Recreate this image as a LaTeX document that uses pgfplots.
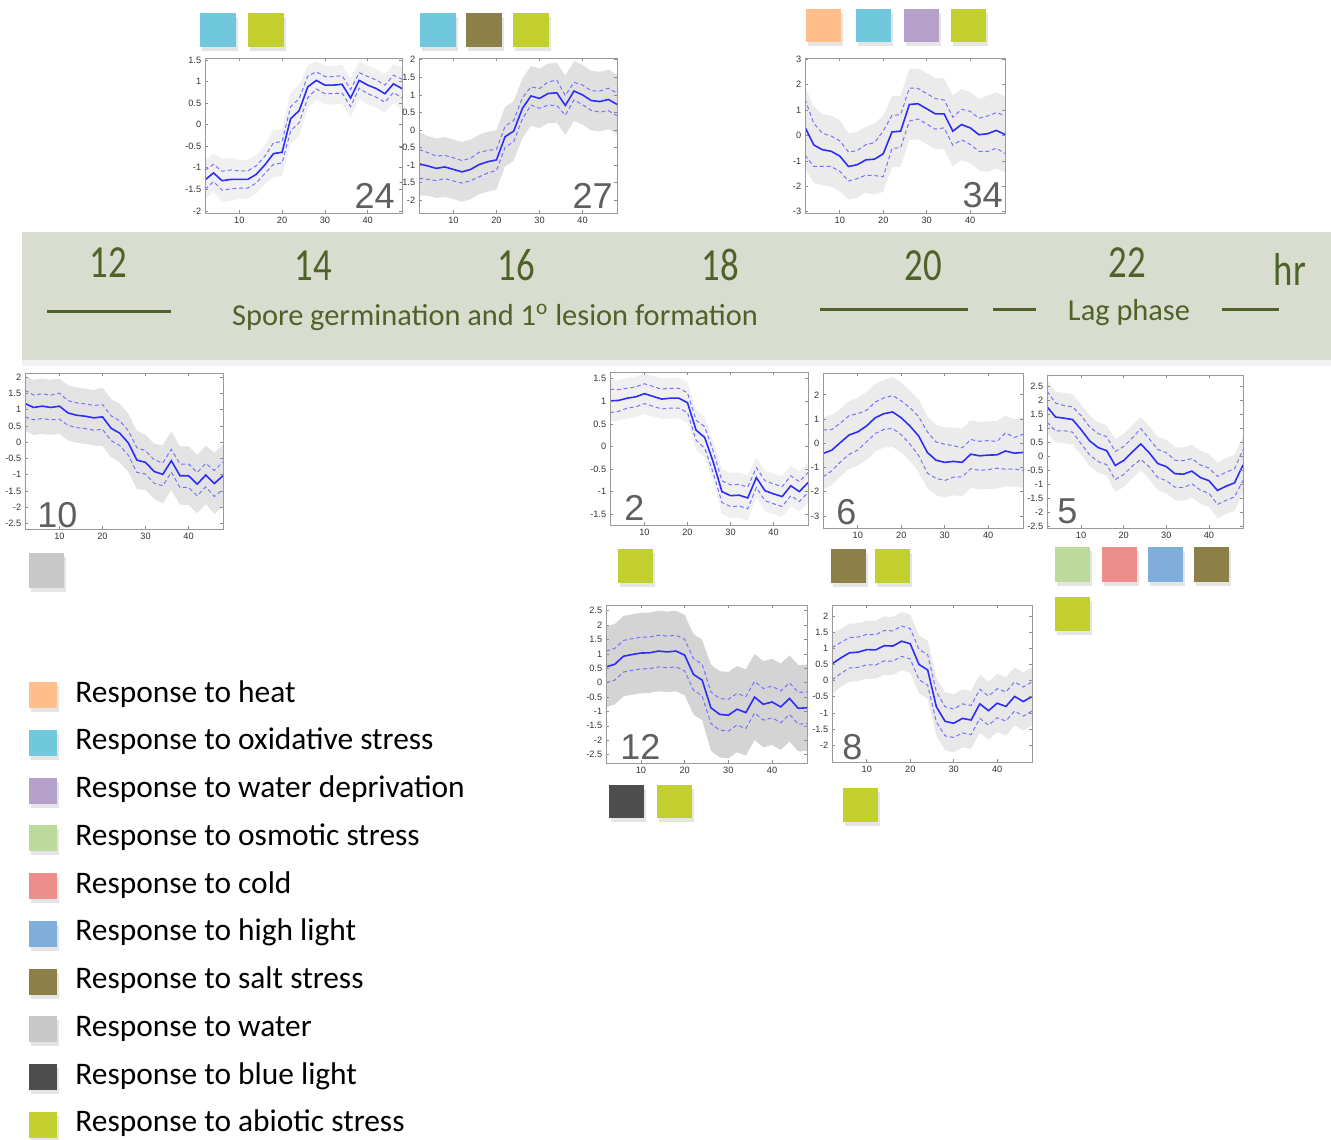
\documentclass[border=0pt]{standalone}
\usepackage{fontspec}
\setmainfont{Carlito}
\newfontfamily\helv{Liberation Sans}
\usepackage{graphicx}
\usepackage{pgfplots}
\pgfplotsset{compat=1.18}
\usepackage{pgfplotstable}

\definecolor{heat}{RGB}{255,190,140}
\definecolor{oxid}{RGB}{112,200,220}
\definecolor{wdep}{RGB}{180,160,200}
\definecolor{osmo}{RGB}{187,218,155}
\definecolor{cold}{RGB}{236,142,139}
\definecolor{hlight}{RGB}{127,174,219}
\definecolor{salt}{RGB}{140,127,71}
\definecolor{water}{RGB}{200,200,200}
\definecolor{blight}{RGB}{77,77,77}
\definecolor{abio}{RGB}{194,207,47}
\definecolor{banner}{RGB}{216,221,208}
\definecolor{olivetxt}{RGB}{79,98,40}
\definecolor{meanblue}{RGB}{45,45,250}
\definecolor{dashblue}{RGB}{115,115,255}
\definecolor{numgray}{RGB}{95,95,95}

\pgfplotstableread{
x m s e
2 -1.28 0.22 0.45
4 -1.12 0.20 0.45
6 -1.30 0.22 0.50
8 -1.27 0.22 0.50
10 -1.27 0.20 0.45
12 -1.27 0.20 0.45
14 -1.15 0.20 0.45
16 -0.93 0.20 0.45
18 -0.67 0.25 0.55
20 -0.64 0.25 0.55
22 0.14 0.28 0.60
24 0.33 0.28 0.60
26 0.88 0.25 0.50
28 1.03 0.20 0.45
30 0.92 0.20 0.45
32 0.92 0.20 0.45
34 0.94 0.20 0.45
36 0.62 0.20 0.45
38 1.03 0.18 0.45
40 0.92 0.20 0.45
42 0.84 0.20 0.45
44 0.72 0.20 0.45
46 0.95 0.20 0.45
48 0.84 0.22 0.50
}\tA
\pgfplotstableread{
x m s e
2 -0.96 0.41 0.90
4 -1.02 0.38 0.85
6 -1.09 0.35 0.85
8 -1.05 0.33 0.85
10 -1.12 0.33 0.85
12 -1.19 0.32 0.85
14 -1.12 0.32 0.85
16 -0.98 0.35 0.85
18 -0.90 0.32 0.85
20 -0.85 0.30 0.85
22 -0.19 0.30 0.85
24 -0.03 0.30 0.85
26 0.61 0.30 0.85
28 0.97 0.26 0.85
30 0.90 0.28 0.85
32 1.04 0.33 0.85
34 1.06 0.36 0.85
36 0.70 0.28 0.85
38 1.11 0.25 0.85
40 1.00 0.28 0.85
42 0.84 0.28 0.85
44 0.81 0.30 0.85
46 0.87 0.32 0.85
48 0.73 0.32 0.85
}\tB
\pgfplotstableread{
x m s e
2 0.33 1.10 1.60
4 -0.37 0.85 1.50
6 -0.56 0.65 1.40
8 -0.62 0.60 1.40
10 -0.81 0.60 1.40
12 -1.22 0.57 1.30
14 -1.15 0.55 1.30
16 -0.96 0.60 1.30
18 -0.93 0.65 1.40
20 -0.72 0.90 1.50
22 0.14 0.65 1.40
24 0.17 0.65 1.40
26 1.22 0.65 1.40
28 1.25 0.60 1.40
30 1.05 0.60 1.40
32 0.85 0.60 1.40
34 0.85 0.55 1.40
36 0.17 0.55 1.40
38 0.43 0.60 1.40
40 0.30 0.65 1.40
42 0.03 0.65 1.40
44 0.07 0.70 1.50
46 0.20 0.70 1.50
48 0.04 0.75 1.50
}\tC
\pgfplotstableread{
x m s e
2 1.19 0.41 0.85
4 1.07 0.38 0.85
6 1.11 0.38 0.85
8 1.07 0.38 0.85
10 1.11 0.40 0.85
12 0.90 0.38 0.85
14 0.83 0.38 0.85
16 0.80 0.38 0.85
18 0.75 0.38 0.85
20 0.78 0.38 0.90
22 0.43 0.38 0.90
24 0.28 0.38 0.90
26 -0.02 0.38 0.90
28 -0.55 0.38 0.90
30 -0.62 0.36 0.85
32 -0.90 0.36 0.85
34 -0.99 0.35 0.90
36 -0.57 0.35 0.90
38 -1.03 0.36 0.90
40 -1.03 0.36 0.90
42 -1.29 0.36 0.90
44 -1.01 0.36 0.90
46 -1.27 0.40 0.95
48 -1.03 0.42 0.95
}\tD
\pgfplotstableread{
x m s e
2 1.01 0.26 0.45
4 1.02 0.24 0.45
6 1.07 0.22 0.45
8 1.10 0.22 0.45
10 1.17 0.22 0.45
12 1.11 0.22 0.45
14 1.05 0.22 0.45
16 1.07 0.22 0.45
18 1.07 0.22 0.45
20 0.97 0.22 0.45
22 0.36 0.22 0.45
24 0.20 0.24 0.45
26 -0.35 0.24 0.45
28 -1.00 0.24 0.50
30 -1.09 0.24 0.50
32 -1.08 0.24 0.50
34 -1.14 0.24 0.50
36 -0.69 0.22 0.45
38 -0.98 0.22 0.45
40 -1.05 0.22 0.45
42 -1.11 0.22 0.45
44 -0.87 0.22 0.45
46 -1.00 0.22 0.45
48 -0.80 0.22 0.45
}\tE
\pgfplotstableread{
x m s e
2 -0.42 0.97 1.50
4 -0.29 0.85 1.45
6 0.03 0.80 1.40
8 0.34 0.80 1.40
10 0.47 0.75 1.40
12 0.71 0.65 1.40
14 1.05 0.65 1.40
16 1.22 0.65 1.40
18 1.29 0.68 1.45
20 1.05 0.70 1.45
22 0.71 0.75 1.45
24 0.30 0.80 1.50
26 -0.38 0.85 1.50
28 -0.70 0.75 1.45
30 -0.79 0.75 1.45
32 -0.75 0.65 1.40
34 -0.79 0.60 1.40
36 -0.45 0.60 1.40
38 -0.52 0.60 1.40
40 -0.49 0.60 1.40
42 -0.48 0.55 1.40
44 -0.32 0.75 1.45
46 -0.41 0.65 1.40
48 -0.38 0.75 1.45
}\tF
\pgfplotstableread{
x m s e
2 1.77 0.55 0.95
4 1.40 0.50 0.90
6 1.36 0.45 0.90
8 1.31 0.45 0.90
10 0.95 0.50 0.90
12 0.55 0.50 0.90
14 0.31 0.50 0.90
16 0.20 0.50 0.90
18 -0.33 0.50 0.95
20 -0.15 0.50 0.95
22 0.15 0.50 0.95
24 0.44 0.55 0.95
26 0.12 0.50 0.95
28 -0.26 0.50 0.95
30 -0.37 0.50 0.95
32 -0.62 0.48 0.95
34 -0.64 0.48 0.95
36 -0.53 0.45 0.95
38 -0.76 0.45 0.95
40 -0.87 0.45 0.95
42 -1.22 0.50 1.00
44 -1.07 0.50 1.00
46 -0.95 0.50 1.00
48 -0.31 0.55 1.00
}\tG
\pgfplotstableread{
x m s e
2 0.55 0.55 1.40
4 0.64 0.55 1.40
6 0.92 0.55 1.40
8 0.98 0.55 1.40
10 1.03 0.55 1.40
12 1.04 0.55 1.40
14 1.10 0.55 1.40
16 1.07 0.55 1.40
18 1.10 0.55 1.40
20 0.96 0.55 1.40
22 0.29 0.55 1.40
24 0.09 0.55 1.40
26 -0.87 0.55 1.50
28 -1.10 0.55 1.50
30 -1.13 0.55 1.50
32 -0.92 0.55 1.50
34 -1.04 0.55 1.50
36 -0.50 0.55 1.50
38 -0.75 0.55 1.50
40 -0.67 0.55 1.50
42 -0.84 0.55 1.50
44 -0.55 0.55 1.50
46 -0.89 0.55 1.50
48 -0.87 0.55 1.50
}\tH
\pgfplotstableread{
x m s e
2 0.52 0.50 0.95
4 0.70 0.48 0.90
6 0.86 0.47 0.90
8 0.88 0.47 0.90
10 0.96 0.47 0.90
12 0.95 0.47 0.90
14 1.08 0.47 0.90
16 1.07 0.47 0.90
18 1.22 0.47 0.90
20 1.14 0.47 0.90
22 0.50 0.47 0.90
24 0.33 0.47 0.90
26 -0.81 0.47 0.90
28 -1.26 0.45 0.90
30 -1.32 0.44 0.90
32 -1.17 0.45 0.90
34 -1.22 0.45 0.90
36 -0.72 0.45 0.90
38 -0.93 0.45 0.90
40 -0.70 0.45 0.90
42 -0.80 0.45 0.90
44 -0.49 0.45 0.90
46 -0.65 0.45 0.90
48 -0.49 0.45 0.90
}\tI

\newcommand\ticksfont{\helv\fontsize{4.6}{5}\selectfont}
\pgfplotsset{
  miniax/.style={scale only axis, anchor=north west, xmin=2, xmax=48,
    axis on top,
    xtick={10,20,30,40}, axis line style={black!40, line width=0.4pt},
    tick style={black!45, line width=0.3pt}, major tick length=1.3pt,
    tick align=inside, ticklabel style={font=\ticksfont, text=black!80},
    xticklabel style={yshift=1.6pt}, yticklabel style={xshift=1.6pt},
    /pgf/number format/assume math mode=true},
  meanline/.style={meanblue, line width=0.8pt},
  dashline/.style={dashblue, line width=0.5pt, dash pattern=on 2pt off 1.4pt},
}
\newcommand\profile[2]{%
  \addplot[fill=#2, draw=none] table[x=x, y expr=\thisrow{m}+\thisrow{e}] {#1} -- (axis cs:48,-9) -- (axis cs:2,-9) -- cycle;
  \addplot[fill=white, draw=none] table[x=x, y expr=\thisrow{m}-\thisrow{e}] {#1} -- (axis cs:48,-9) -- (axis cs:2,-9) -- cycle;
  \addplot[dashline] table[x=x, y expr=\thisrow{m}+\thisrow{s}] {#1};
  \addplot[dashline] table[x=x, y expr=\thisrow{m}-\thisrow{s}] {#1};
  \addplot[meanline] table[x=x, y=m] {#1};
}
\newcommand\sq[5]{% x y w h color
  \fill[black, opacity=0.10] ({#1+2},{#2+4}) rectangle ++(#3,#4);
  \fill[#5] (#1,#2) rectangle ++(#3,#4);
}

\begin{document}
\begin{tikzpicture}
\useasboundingbox (0,0) rectangle (665.5pt,-569.5pt);
\fill[white] (0,0) rectangle (665.5pt,-569.5pt);

\begin{scope}[x=0.5pt,y=-0.5pt]
  \fill[black, opacity=0.05] (22,360) rectangle (1331,366);
  \fill[banner] (22,232) rectangle (1331,360);
  \begin{scope}[olivetxt]
    \foreach \xx/\yy/\lab in {108/277/12, 313/280/14, 516/280/16, 720/280/18, 923/280/20, 1127/277/22, 1290/285/hr}
      \node[anchor=base, inner sep=0pt] at (\xx,\yy) {\scalebox{0.8}[1]{\fontsize{23}{26}\selectfont \lab}};
    \node[anchor=base, inner sep=0pt] at (495,325) {\fontsize{15.2}{18}\selectfont Spore germination and 1\textsuperscript{o} lesion formation};
    \node[anchor=base, inner sep=0pt] at (1129,320) {\fontsize{15.2}{18}\selectfont Lag phase};
    \draw[line width=1.5pt] (47,311) -- (171,311);
    \draw[line width=1.5pt] (820,309) -- (968,309);
    \draw[line width=1.5pt] (993,309) -- (1036,309);
    \draw[line width=1.5pt] (1222,309) -- (1279,309);
  \end{scope}

  \sq{200}{13}{36}{34}{oxid}
  \sq{248}{13}{36}{34}{abio}
  \sq{420}{13}{36}{34}{oxid}
  \sq{466}{13}{36}{34}{salt}
  \sq{513}{13}{36}{34}{abio}
  \sq{806}{9}{35}{33}{heat}
  \sq{856}{9}{35}{33}{oxid}
  \sq{904}{9}{35}{33}{wdep}
  \sq{951}{9}{35}{33}{abio}
  \sq{29}{553}{35}{35}{water}
  \sq{618}{549}{35}{34}{abio}
  \sq{831}{549}{35}{34}{salt}
  \sq{875}{549}{35}{34}{abio}
  \sq{1055}{547}{35}{35}{osmo}
  \sq{1102}{547}{35}{35}{cold}
  \sq{1148}{547}{35}{35}{hlight}
  \sq{1194}{547}{35}{35}{salt}
  \sq{1055}{597}{35}{34}{abio}
  \sq{609}{785}{35}{33}{blight}
  \sq{657}{785}{35}{33}{abio}
  \sq{843}{788}{35}{34}{abio}

  \foreach \cc/\lab [count=\i from 0] in {heat/Response to heat, oxid/Response to oxidative stress, wdep/Response to water deprivation, osmo/Response to osmotic stress, cold/Response to cold, hlight/Response to high light, salt/Response to salt stress, water/Response to water, blight/Response to blue light, abio/Response to abiotic stress}{
    \pgfmathsetmacro\yt{682+47.75*\i}
    \sq{29}{\yt}{28}{26}{\cc}
    \node[anchor=base west, inner sep=0pt] at (75,{\yt+20}) {\fontsize{15.7}{18}\selectfont \lab};
  }
\end{scope}

\begin{axis}[miniax, at={(102.5pt,-29pt)}, width=98.5pt, height=77.5pt,
  ymin=-2.05, ymax=1.55, ytick={-2,-1.5,-1,-0.5,0,0.5,1,1.5}]
\profile{\tA}{black!6}
\end{axis}
\begin{axis}[miniax, at={(209.5pt,-29pt)}, width=99pt, height=77.5pt,
  ymin=-2.36, ymax=2.05, ytick={-2,-1.5,-1,-0.5,0,0.5,1,1.5,2}]
\profile{\tB}{black!12}
\end{axis}
\begin{axis}[miniax, at={(402.5pt,-29pt)}, width=100pt, height=77.5pt,
  ymin=-3.05, ymax=3.05, ytick={-3,-2,-1,0,1,2,3}]
\profile{\tC}{black!8}
\end{axis}
\begin{axis}[miniax, at={(12.5pt,-186.5pt)}, width=99pt, height=78pt,
  ymin=-2.67, ymax=2.13, ytick={-2.5,-2,-1.5,-1,-0.5,0,0.5,1,1.5,2}]
\profile{\tD}{black!11}
\end{axis}
\begin{axis}[miniax, at={(305pt,-186pt)}, width=99pt, height=76.5pt,
  ymin=-1.74, ymax=1.65, ytick={-1.5,-1,-0.5,0,0.5,1,1.5}]
\profile{\tE}{black!6}
\end{axis}
\begin{axis}[miniax, at={(411.5pt,-186.5pt)}, width=100pt, height=77.5pt,
  ymin=-3.5, ymax=2.9, ytick={-3,-2,-1,0,1,2}]
\profile{\tF}{black!8}
\end{axis}
\begin{axis}[miniax, at={(523.5pt,-187.5pt)}, width=98pt, height=76.5pt,
  ymin=-2.56, ymax=2.9, ytick={-2.5,-2,-1.5,-1,-0.5,0,0.5,1,1.5,2,2.5}]
\profile{\tG}{black!8}
\end{axis}
\begin{axis}[miniax, at={(303pt,-302.5pt)}, width=100.5pt, height=79pt,
  ymin=-2.79, ymax=2.7, ytick={-2.5,-2,-1.5,-1,-0.5,0,0.5,1,1.5,2,2.5}]
\profile{\tH}{black!17}
\end{axis}
\begin{axis}[miniax, at={(416pt,-302.5pt)}, width=100pt, height=78.5pt,
  ymin=-2.52, ymax=2.34, ytick={-2,-1.5,-1,-0.5,0,0.5,1,1.5,2}]
\profile{\tI}{black!9}
\end{axis}

\begin{scope}[x=0.5pt,y=-0.5pt]
  \foreach \xx/\yy/\aa/\lab in {395/209/base east/24, 613/209/base east/27, 1003/207/base east/34, 37/527/base west/10, 624/520/base west/2, 836/524/base west/6, 1057/523/base west/5, 620/759/base west/12, 842/759/base west/8}
    \node[anchor=\aa, inner sep=0pt, text=numgray] at (\xx,\yy) {\helv\fontsize{18}{20}\selectfont \lab};
\end{scope}
\end{tikzpicture}
\end{document}
